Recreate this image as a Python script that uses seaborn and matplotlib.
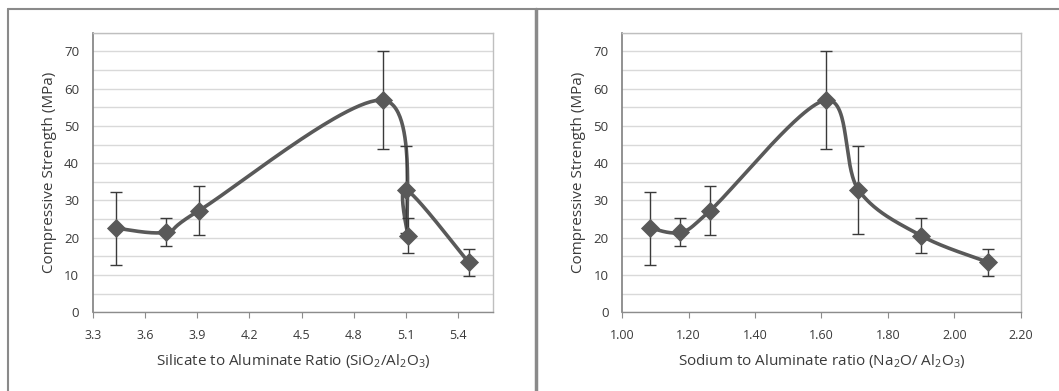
import numpy as np
import matplotlib
matplotlib.use("Agg")
import matplotlib.pyplot as plt
import seaborn as sns
from matplotlib.lines import Line2D

# data (Excel-style scatter with smoothed lines)
silicate_ratio = [3.43, 3.72, 3.91, 4.97, 5.11, 5.10, 5.46]
silicate_strength = [22.6, 21.5, 27.3, 56.9, 20.6, 32.9, 13.4]
silicate_err = [9.8, 3.7, 6.6, 13.1, 4.8, 11.7, 3.7]

sodium_ratio = [1.085, 1.174, 1.265, 1.613, 1.711, 1.899, 2.103]
sodium_strength = [22.6, 21.5, 27.3, 56.9, 32.9, 20.6, 13.4]
sodium_err = [9.8, 3.7, 6.6, 13.1, 11.8, 4.8, 3.7]

silicate_ticks = [3.3, 3.6, 3.9, 4.2, 4.5, 4.8, 5.1, 5.4]
sodium_ticks = [1.0, 1.2, 1.4, 1.6, 1.8, 2.0, 2.2]
y_ticks = [0, 10, 20, 30, 40, 50, 60, 70]

sns.set_style("white")
plt.rcParams["font.family"] = ["Open Sans", "DejaVu Sans"]
plt.rcParams["mathtext.default"] = "regular"

DARK = "#595959"
TXT = "#3a3a3a"


def smooth_curve(ax, xs, ys, n=60):
    """Excel-like smoothed line: cubic Bezier through points, built in pixel space."""
    pts = ax.transData.transform(np.column_stack([xs, ys]))
    p = np.vstack([pts[0], pts, pts[-1]])
    out = []
    t = np.linspace(0, 1, n)[:, None]
    for i in range(1, len(p) - 2):
        p0, p1 = p[i], p[i + 1]
        c1 = p0 + (p[i + 1] - p[i - 1]) / 6
        c2 = p1 - (p[i + 2] - p[i]) / 6
        seg = (1 - t) ** 3 * p0 + 3 * (1 - t) ** 2 * t * c1 + 3 * (1 - t) * t ** 2 * c2 + t ** 3 * p1
        out.append(seg)
    out = np.vstack(out)
    return ax.transData.inverted().transform(out)


def draw_panel(ax, xs, ys, errs, xlim, xticks, xfmt, xlabel):
    ax.set_xlim(*xlim)
    ax.set_ylim(0, 75)
    ax.set_yticks(y_ticks)
    ax.set_yticks(np.arange(5, 76, 5), minor=True)
    ax.set_xticks(xticks)
    ax.set_xticklabels([xfmt.format(v) for v in xticks])
    ax.grid(axis="y", which="both", color="#d9d9d9", lw=1)
    ax.set_axisbelow(True)

    curve = smooth_curve(ax, xs, ys)
    ax.plot(curve[:, 0], curve[:, 1], color=DARK, lw=2.6, zorder=3, solid_capstyle="round")
    ax.errorbar(xs, ys, yerr=errs, fmt="none", ecolor="#3a3a3a", elinewidth=1,
                capsize=4, capthick=1, zorder=4)
    sns.scatterplot(x=xs, y=ys, marker="D", s=95, color=DARK, edgecolor=DARK,
                    linewidth=0, ax=ax, zorder=5)

    for side in ["top", "right"]:
        ax.spines[side].set_color("#bfbfbf")
        ax.spines[side].set_linewidth(1)
    ax.spines["left"].set_color("#7f7f7f")
    ax.spines["bottom"].set_color("#8c8c8c")
    ax.spines["left"].set_linewidth(1.2)
    ax.spines["bottom"].set_linewidth(1)
    ax.tick_params(axis="x", which="major", direction="out", length=4, width=0.8,
                   color="#8c8c8c", labelsize=9, labelcolor=TXT, pad=8, bottom=True)
    ax.tick_params(axis="y", which="both", length=0, labelsize=9.5, labelcolor=TXT, pad=10)
    ax.set_ylabel("Compressive Strength (MPa)", fontsize=11, color=TXT, labelpad=5)
    ax.set_xlabel(xlabel, fontsize=11, color=TXT, labelpad=7)


fig = plt.figure(figsize=(10.59, 3.91), dpi=100)
ax1 = fig.add_axes([0.0878, 0.2013, 0.3777, 0.715])
ax2 = fig.add_axes([0.5876, 0.2013, 0.3762, 0.715])

draw_panel(ax1, silicate_ratio, silicate_strength, silicate_err, (3.3, 5.6),
           silicate_ticks, "{:.1f}", "Silicate to Aluminate Ratio (SiO$_2$/Al$_2$O$_3$)")
draw_panel(ax2, sodium_ratio, sodium_strength, sodium_err, (1.0, 2.2),
           sodium_ticks, "{:.2f}", "Sodium to Aluminate ratio (Na$_2$O/ Al$_2$O$_3$)")

# panel frames (outer chart borders)
W, H = 1059, 391
frame = "#8a8a8a"
fig.add_artist(Line2D([8 / W, 1], [1 - 9 / H, 1 - 9 / H], color=frame, lw=1.5))
fig.add_artist(Line2D([8 / W, 8 / W], [0, 1 - 9 / H], color=frame, lw=1.5))
fig.add_artist(Line2D([536 / W, 536 / W], [0, 1 - 9 / H], color=frame, lw=2.5))

fig.savefig("out.png", dpi=100, facecolor="white")
